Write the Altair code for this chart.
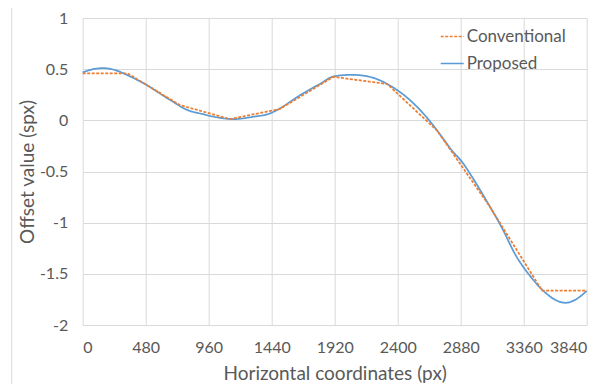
import altair as alt
import pandas as pd

# Conventional (piecewise linear)
conv_x = [0, 340, 740, 1120, 1500, 1910, 2320, 2700, 3100, 3500, 3840]
conv_y = [0.46, 0.46, 0.15, 0.012, 0.11, 0.425, 0.355, -0.10, -0.84, -1.665, -1.665]

# Proposed (smooth)
prop_x = [0, 80, 157, 250, 335, 480, 665, 800, 900, 1000, 1148, 1300, 1432, 1503,
          1650, 1808, 1915, 2050, 2150, 2240, 2341, 2494, 2646, 2722, 2824, 2880,
          2980, 3078, 3192, 3300, 3408, 3497, 3611, 3675, 3764, 3840]
prop_y = [0.468, 0.50, 0.51, 0.49, 0.445, 0.35, 0.20, 0.10, 0.065, 0.035, 0.012,
          0.035, 0.07, 0.117, 0.24, 0.356, 0.43, 0.445, 0.435, 0.404, 0.34, 0.197,
          -0.01, -0.137, -0.312, -0.39, -0.58, -0.79, -1.045, -1.32, -1.52, -1.65,
          -1.761, -1.783, -1.745, -1.666]

series_names = ["Conventional", "Proposed"]
series_colors = ["#ED7D31", "#5B9BD5"]
x_ticks = [0, 480, 960, 1440, 1920, 2400, 2880, 3360, 3840]
y_ticks = [-2, -1.5, -1, -0.5, 0, 0.5, 1]

conv = pd.DataFrame({"x": conv_x, "y": conv_y, "series": "Conventional"})
prop = pd.DataFrame({"x": prop_x, "y": prop_y, "series": "Proposed"})

FONT = "Lato"
GRAY = "#595959"
W, H = 504, 307

xenc = alt.X("x:Q", scale=alt.Scale(domain=[0, 3840], nice=False),
             axis=alt.Axis(values=x_ticks, title="Horizontal coordinates (px)",
                           labelExpr="'' + datum.value",
                           labelPadding=14, titleX=W / 2, titleY=48,
                           titleBaseline="middle"))
yenc = alt.Y("y:Q", scale=alt.Scale(domain=[-2, 1], nice=False),
             axis=alt.Axis(values=y_ticks, title="Offset value (spx)",
                           labelExpr="'' + datum.value", labelPadding=15,
                           titleX=-55, titleY=H / 2, titleBaseline="middle",
                           titleAlign="center"))
color = alt.Color("series:N",
                  scale=alt.Scale(domain=series_names, range=series_colors),
                  legend=alt.Legend(title=None, orient="none", legendX=357, legendY=6,
                                    symbolType="stroke", symbolSize=529,
                                    symbolStrokeWidth=1.5, labelOffset=2,
                                    rowPadding=6, padding=0))
dash = alt.StrokeDash("series:N",
                      scale=alt.Scale(domain=series_names, range=[[3, 1.5], [1, 0]]))

prop_line = alt.Chart(prop).mark_line(interpolate="monotone", strokeWidth=1.75).encode(
    x=xenc, y=yenc, color=color, strokeDash=dash)
conv_line = alt.Chart(conv).mark_line(strokeWidth=1.75).encode(
    x=xenc, y=yenc, color=color, strokeDash=dash)

border = alt.Chart(pd.DataFrame({"s": [0]})).mark_rule(color="#d9d9d9", strokeWidth=1).encode(
    x=alt.value(-71), y=alt.value(-20), y2=alt.value(400))
border2 = alt.Chart(pd.DataFrame({"s": [0]})).mark_rule(color="#d9d9d9", strokeWidth=1).encode(
    x=alt.value(527.5), y=alt.value(-20), y2=alt.value(400))

chart = alt.layer(prop_line, conv_line, border, border2).properties(
    width=W, height=H,
    autosize=alt.AutoSizeParams(type="none"),
    padding={"left": 74.7, "top": 10, "right": 21.3, "bottom": 59},
).configure_view(strokeWidth=0).configure_axis(
    grid=True, gridColor="#d9d9d9", gridWidth=1, domain=False, ticks=False,
    labelFont=FONT, labelFontSize=16, labelColor=GRAY,
    titleFont=FONT, titleFontSize=19, titleColor=GRAY, titleFontWeight="normal",
).configure_legend(labelFont=FONT, labelFontSize=17, labelColor=GRAY)

chart.save("out.html", embed_options={"renderer": "svg", "actions": False})
